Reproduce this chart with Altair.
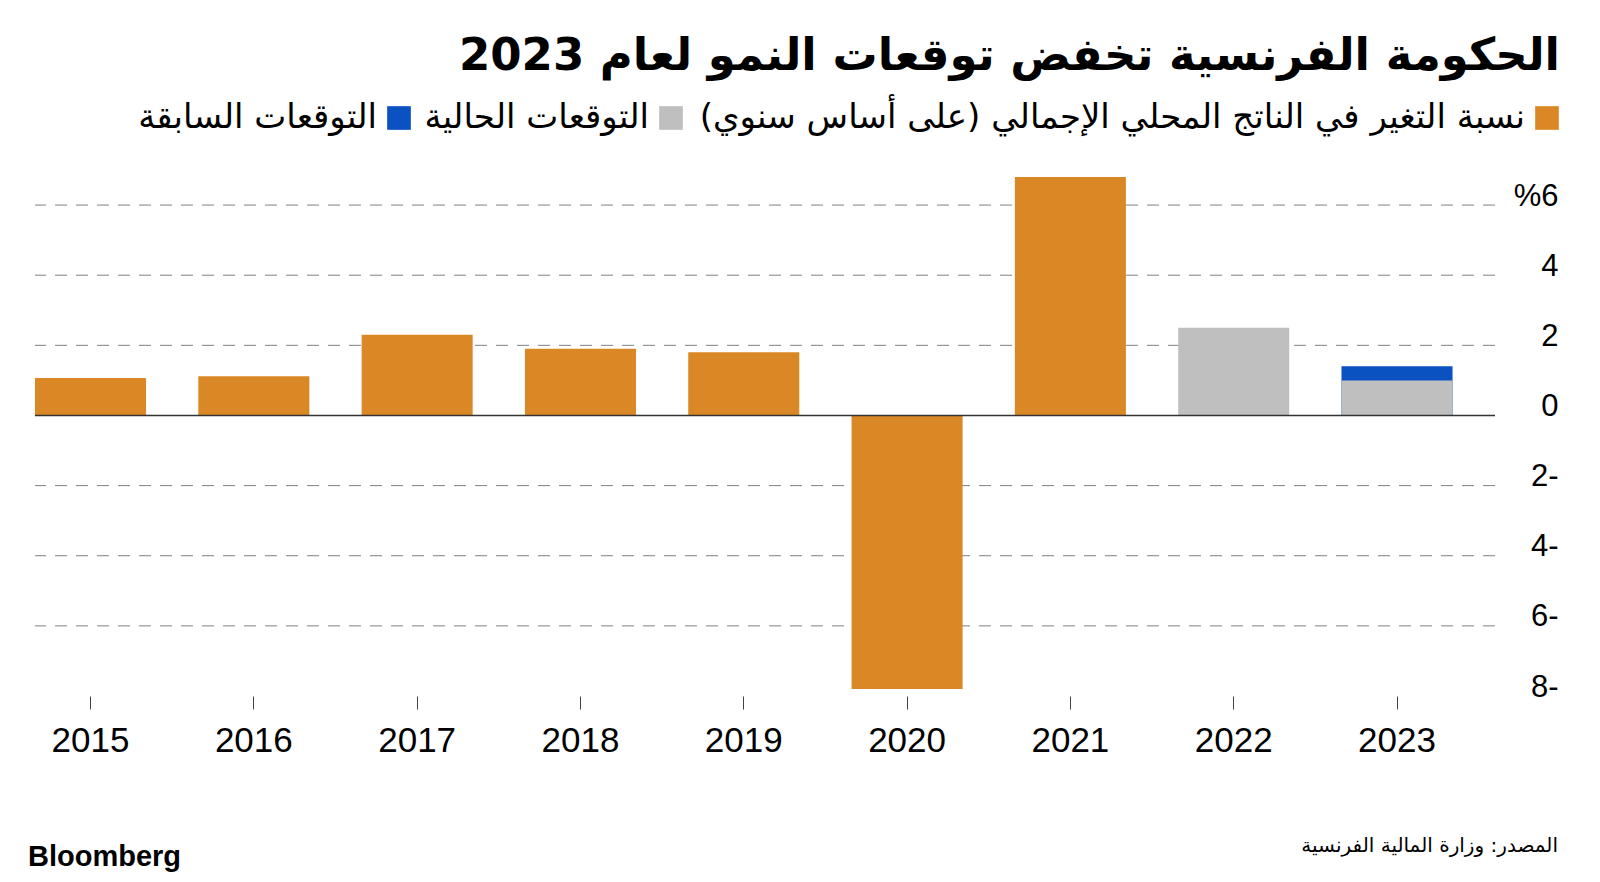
import altair as alt
import pandas as pd

# ---- data ----
years = ["2015", "2016", "2017", "2018", "2019", "2020", "2021", "2022", "2023"]
gdp_change = [1.07, 1.12, 2.3, 1.9, 1.8, -7.8, 6.8, None, None]
forecast_current = [None, None, None, None, None, None, None, 2.5, 1.0]
forecast_previous = [None, None, None, None, None, None, None, None, 1.4]
grid_values = [-6, -4, -2, 2, 4, 6]
y_tick_values = [-8, -6, -4, -2, 0, 2, 4, 6]

RLM = "\u200f"
S_ACT = "نسبة التغير في الناتج المحلي الإجمالي (على أساس سنوي)" + RLM
S_CUR = "التوقعات الحالية"
S_PRE = "التوقعات السابقة"
TITLE = "الحكومة الفرنسية تخفض توقعات النمو لعام 2023"
SOURCE = "المصدر: وزارة المالية الفرنسية"
BRAND = "Bloomberg"

ORANGE = "#DA8825"
GRAY = "#BFBFBF"
BLUE = "#0A51C2"

AR_FONT = "DejaVu Sans"
NUM_FONT = "Liberation Sans"

# ---- build table (previous forecast drawn first, current forecast over it) ----
rows = []
for y, v in zip(years, forecast_previous):
    if v is not None:
        rows.append({"year": y, "series": S_PRE, "value": v, "base": 0})
for y, v in zip(years, gdp_change):
    if v is not None:
        rows.append({"year": y, "series": S_ACT, "value": v, "base": 0})
for y, v in zip(years, forecast_current):
    if v is not None:
        rows.append({"year": y, "series": S_CUR, "value": v, "base": 0})
df = pd.DataFrame(rows)
df["order"] = range(len(df))

W, H = 1460, 526

y_scale = alt.Scale(domain=[-8, 7], nice=False, zero=False)
y_axis = alt.Axis(
    title=None, orient="right", domain=False, ticks=False, tickSize=0,
    grid=False, values=y_tick_values, labelAlign="right",
    labelBaseline="alphabetic", labelPadding=63, labelFont=NUM_FONT,
    labelFontSize=31, labelColor="#000000",
    labelExpr="datum.value == 6 ? '%6' : (datum.value < 0 ? (-datum.value) + '-' : datum.value + '')",
)
color_scale = alt.Scale(domain=[S_ACT, S_CUR, S_PRE], range=[ORANGE, GRAY, BLUE])

grid = alt.Chart(pd.DataFrame({"g": grid_values})).mark_rule(
    color="#808080", strokeWidth=1, strokeDash=[12, 9]
).encode(y=alt.Y("g:Q", scale=y_scale, axis=y_axis))

bars = alt.Chart(df).mark_bar().encode(
    x=alt.X(
        "year:N",
        sort=years,
        scale=alt.Scale(paddingInner=0.32, paddingOuter=0.13, align=0),
        axis=alt.Axis(
            title=None, orient="bottom", domain=False, ticks=True, tickSize=13,
            tickColor="#444444", tickWidth=1, labelAngle=0, labelPadding=14,
            labelFont=NUM_FONT, labelFontSize=35, labelColor="#000000",
        ),
    ),
    y=alt.Y("value:Q", scale=y_scale, axis=y_axis),
    y2="base:Q",
    color=alt.Color("series:N", scale=color_scale, legend=None),
    order=alt.Order("order:Q"),
)

zero = alt.Chart(pd.DataFrame({"z": [0]})).mark_rule(
    color="#333333", strokeWidth=1.5
).encode(y=alt.Y("z:Q", scale=y_scale, axis=y_axis))

# ---- right-to-left legend (square to the right of each label) ----
LEG_Y = -52
LEG_TEXT_Y = -42


def legend_item(label, colour, square_x):
    sq = alt.Chart(pd.DataFrame({"s": [label]})).mark_square(
        size=560, opacity=1, color=colour, strokeWidth=0
    ).encode(x=alt.value(square_x), y=alt.value(LEG_Y))
    tx = alt.Chart(pd.DataFrame({"s": [label]})).mark_text(
        align="right", baseline="alphabetic", font=AR_FONT, fontSize=34,
        color="#000000", dir="rtl"
    ).encode(text="s:N", x=alt.value(square_x - 22), y=alt.value(LEG_TEXT_Y))
    return [sq, tx]


legend_layers = (
    legend_item(S_ACT, ORANGE, 1512)
    + legend_item(S_CUR, GRAY, 636)
    + legend_item(S_PRE, BLUE, 364)
)

title = alt.Chart(pd.DataFrame({"t": [TITLE]})).mark_text(
    align="right", baseline="alphabetic", font=AR_FONT, fontSize=45,
    fontWeight="bold", color="#000000", dir="rtl"
).encode(text="t:N", x=alt.value(1525), y=alt.value(-100))

source = alt.Chart(pd.DataFrame({"t": [SOURCE]})).mark_text(
    align="right", baseline="alphabetic", font=AR_FONT, fontSize=20,
    color="#000000", dir="rtl"
).encode(text="t:N", x=alt.value(1523), y=alt.value(682))

brand = alt.Chart(pd.DataFrame({"t": [BRAND]})).mark_text(
    align="left", baseline="alphabetic", font=NUM_FONT, fontSize=29,
    fontWeight="bold", color="#000000"
).encode(text="t:N", x=alt.value(-7), y=alt.value(696))

chart = alt.layer(grid, bars, zero, *legend_layers, title, source, brand).properties(
    width=W, height=H,
    autosize=alt.AutoSizeParams(type="none"),
    padding={"left": 27, "top": 162, "right": 90, "bottom": 176},
    background="#ffffff",
).configure_view(stroke=None)

chart.save("out.html", embed_options={"renderer": "svg", "actions": False})
